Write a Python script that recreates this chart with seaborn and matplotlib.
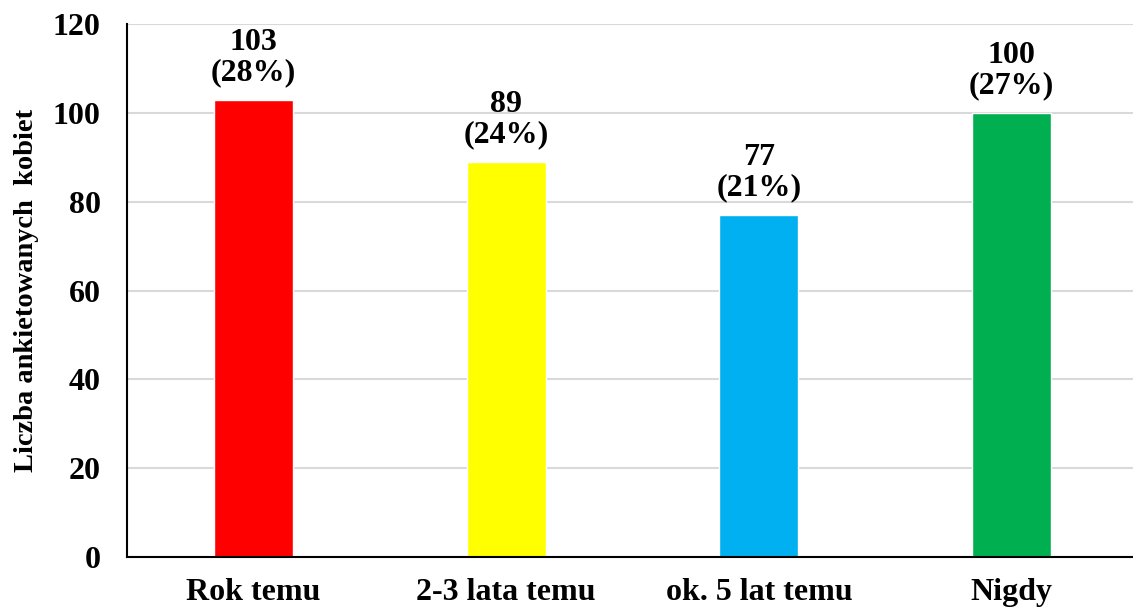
import pandas as pd
import matplotlib.pyplot as plt
import seaborn as sns

# data
categories = ["Rok temu", "2-3 lata temu", "ok. 5 lat temu", "Nigdy"]
counts = [103, 89, 77, 100]
percents = ["28%", "24%", "21%", "27%"]
colors = ["#FF0000", "#FFFF00", "#00B0F0", "#00B050"]

df = pd.DataFrame({"kategoria": categories, "liczba": counts})

sns.set_style("white")
plt.rcParams['font.family'] = ['Liberation Serif', 'DejaVu Serif']
plt.rcParams['font.weight'] = 'bold'
plt.rcParams['text.color'] = 'black'
plt.rcParams['axes.labelcolor'] = 'black'
plt.rcParams['xtick.color'] = 'black'
plt.rcParams['ytick.color'] = 'black'

fig = plt.figure(figsize=(11.33, 6.07), dpi=100)
ax = fig.add_axes([127 / 1133, 1 - 557 / 607, 1 - 127 / 1133, 533 / 607])

sns.barplot(data=df, x="kategoria", y="liczba", hue="kategoria",
            palette=colors, width=0.313, legend=False, ax=ax, saturation=1)

ax.set_ylim(0, 120)
ax.set_xlim(-0.5, 3.48)
ax.set_yticks(range(0, 121, 20))
ax.yaxis.grid(True, color="#D9D9D9", linewidth=1.5)
ax.set_axisbelow(True)

for side in ["top", "right"]:
    ax.spines[side].set_visible(False)
for side in ["left", "bottom"]:
    ax.spines[side].set_color("black")
    ax.spines[side].set_linewidth(1.5)

ax.tick_params(axis="both", length=0, labelsize=23)
ax.tick_params(axis="y", pad=19)
ax.tick_params(axis="x", pad=15)
for lbl in ax.get_xticklabels() + ax.get_yticklabels():
    lbl.set_fontweight("bold")

ax.set_xlabel("")
ax.set_ylabel("Liczba ankietowanych  kobiet", fontsize=20.5, fontweight="bold", labelpad=10)

for i, (c, p) in enumerate(zip(counts, percents)):
    ax.annotate(f"{c}\n({p})", xy=(i, c), xytext=(0, 9), textcoords="offset points",
                ha="center", va="bottom", fontsize=23, fontweight="bold",
                linespacing=1.05)

fig.savefig("out.png", dpi=100)
